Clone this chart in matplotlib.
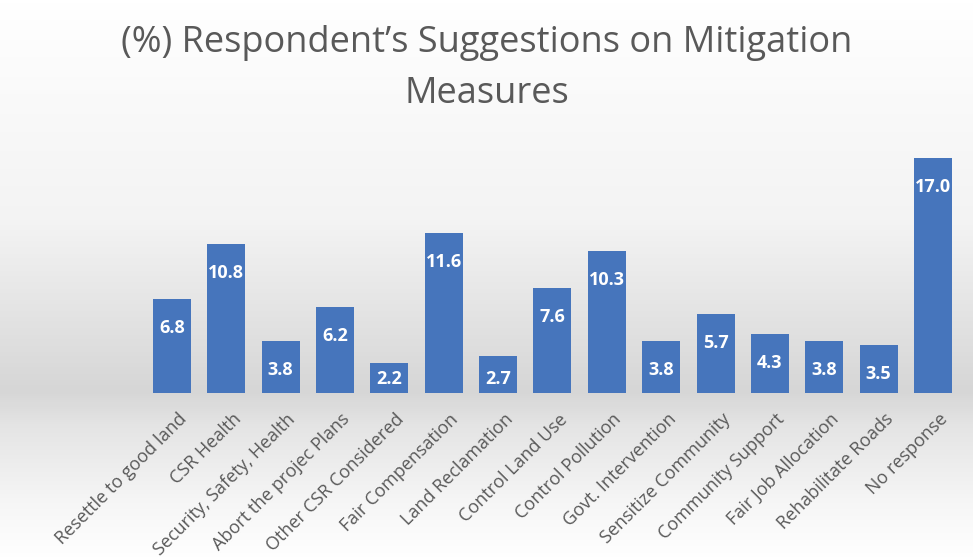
import numpy as np
import matplotlib
matplotlib.use("Agg")
import matplotlib.pyplot as plt
import matplotlib.transforms as mtransforms
from matplotlib.colors import LinearSegmentedColormap

categories = [
    "Resettle to good land", "CSR Health", "Security, Safety, Health",
    "Abort the projec Plans", "Other CSR Considered", "Fair Compensation",
    "Land Reclamation", "Control Land Use", "Control Pollution",
    "Govt. Intervention", "Sensitize Community", "Community Support",
    "Fair Job Allocation", "Rehabilitate Roads", "No response",
]
values = [6.8, 10.8, 3.8, 6.2, 2.2, 11.6, 2.7, 7.6, 10.3, 3.8, 5.7, 4.3, 3.8, 3.5, 17.0]
title = "(%) Respondent\u2019s Suggestions on Mitigation\nMeasures"

bar_color = "#4675bc"
text_gray = "#595959"
font = "Open Sans"

fig = plt.figure(figsize=(9.73, 5.6), dpi=100)

# background: white at the top, grey band at the bar baseline, fading to white below
bg = fig.add_axes([0, 0, 1, 1], zorder=-10)
bg.set_axis_off()
cmap = LinearSegmentedColormap.from_list(
    "bg", [(0.0, "#ffffff"), (0.40, "#f3f3f3"), (0.70, "#d6d6d6"),
           (0.76, "#e4e4e4"), (0.90, "#f6f6f6"), (1.0, "#ffffff")])
grad = np.linspace(0, 1, 560).reshape(-1, 1)
bg.imshow(grad, aspect="auto", cmap=cmap, extent=[0, 1, 0, 1], origin="upper")
bg.set_xlim(0, 1)
bg.set_ylim(0, 1)

ax = fig.add_axes([0.1488, 0.2982, 0.838, 0.4441])
ax.patch.set_alpha(0)
x = np.arange(len(values))
ax.bar(x, values, width=0.70, color=bar_color, zorder=3)

ax.set_xlim(-0.5, len(values) - 0.5)
ax.set_ylim(0, 18)
for s in ax.spines.values():
    s.set_visible(False)
ax.set_yticks([])
ax.set_xticks(x)
ax.tick_params(axis="x", length=0, pad=17)
offset = mtransforms.ScaledTranslation(12 / 100, 0, fig.dpi_scale_trans)
labels = ax.set_xticklabels(categories, rotation=45, ha="right", va="center",
                            rotation_mode="anchor", fontsize=13,
                            color=text_gray, family=font)
for lab in labels:
    lab.set_transform(lab.get_transform() + offset)

# value labels just inside the top of each bar
for xi, v in zip(x, values):
    ax.text(xi, max(v - 2.1, 1.0), f"{v:.1f}", ha="center", va="center",
            color="white", fontsize=13, fontweight="bold", family=font, zorder=4)

fig.text(0.5, 0.955, title, ha="center", va="top", fontsize=26,
         color=text_gray, family=font, linespacing=1.55)

fig.savefig("out.png", dpi=100)
